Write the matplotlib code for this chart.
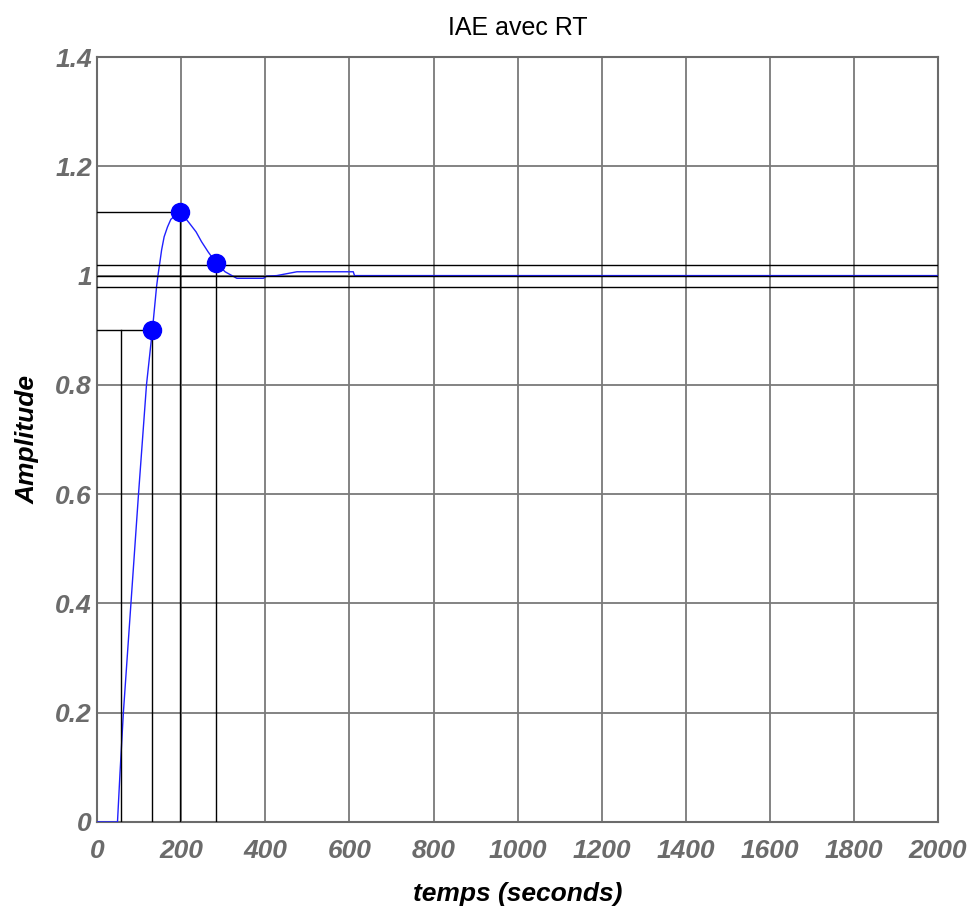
import matplotlib
matplotlib.use("Agg")
import matplotlib.pyplot as plt

# step response
t = [0, 48, 54, 62, 80, 98, 117, 131, 141, 145, 149, 153, 159, 167, 175, 197,
     217, 235, 248, 264, 283, 304, 332, 395, 403, 427, 475, 609, 612, 2000]
y = [0, 0, 0.09, 0.2, 0.4, 0.6, 0.8, 0.9, 0.98, 1.004, 1.025, 1.047, 1.071, 1.089,
     1.103, 1.117, 1.098, 1.08, 1.062, 1.043, 1.023, 1.007, 0.995, 0.995, 0.999,
     1.0, 1.007, 1.007, 1.0, 1.0]

# characteristic points (rise 90%, peak, settling)
pts_t = [131, 197, 283]
pts_y = [0.9, 1.117, 1.023]
t10 = 57
band = [0.98, 1.0, 1.02]

xticks = [0, 200, 400, 600, 800, 1000, 1200, 1400, 1600, 1800, 2000]
yticks = [0, 0.2, 0.4, 0.6, 0.8, 1.0, 1.2, 1.4]
ytick_labels = ["0", "0.2", "0.4", "0.6", "0.8", "1", "1.2", "1.4"]

plt.rcParams["font.family"] = ["Liberation Sans", "DejaVu Sans"]

fig = plt.figure(figsize=(9.8, 9.11), dpi=100)
ax = fig.add_axes([0.0993, 0.0977, 0.8577, 0.8397])

grey = "#6b6b6b"

ax.plot(t, y, color="#2020ff", lw=1.0, zorder=3)

# reference lines
for b in band:
    ax.axhline(b, color="black", lw=1.0, zorder=4)
ax.plot([0, pts_t[0]], [pts_y[0], pts_y[0]], color="black", lw=1.0, zorder=4)
ax.plot([0, pts_t[1]], [pts_y[1], pts_y[1]], color="black", lw=1.0, zorder=4)
ax.plot([t10, t10], [0, pts_y[0]], color="black", lw=1.0, zorder=4)
for pt, py in zip(pts_t, pts_y):
    ax.plot([pt, pt], [0, py], color="black", lw=1.0, zorder=4)

ax.plot(pts_t, pts_y, "o", color="#0000ff", ms=13, zorder=5, linestyle="none")

ax.set_xlim(0, 2000)
ax.set_ylim(0, 1.4)
ax.set_xticks(xticks)
ax.set_yticks(yticks)
ax.set_yticklabels(ytick_labels)
ax.grid(True, color="#7a7a7a", lw=1.3)
for s in ax.spines.values():
    s.set_color(grey)
    s.set_linewidth(1.5)
ax.tick_params(length=0, colors=grey, labelsize=19)
ax.tick_params(axis="x", pad=12)
ax.tick_params(axis="y", pad=4)
for lab in ax.get_xticklabels() + ax.get_yticklabels():
    lab.set_fontweight("bold")
    lab.set_fontstyle("italic")

ax.set_title("IAE avec RT", fontsize=18, pad=16)
ax.set_xlabel("temps (seconds)", fontsize=19, fontweight="bold",
              fontstyle="italic", labelpad=14)
ax.set_ylabel("Amplitude", fontsize=19, fontweight="bold",
              fontstyle="italic", labelpad=11)

fig.savefig("out.png", dpi=100)
